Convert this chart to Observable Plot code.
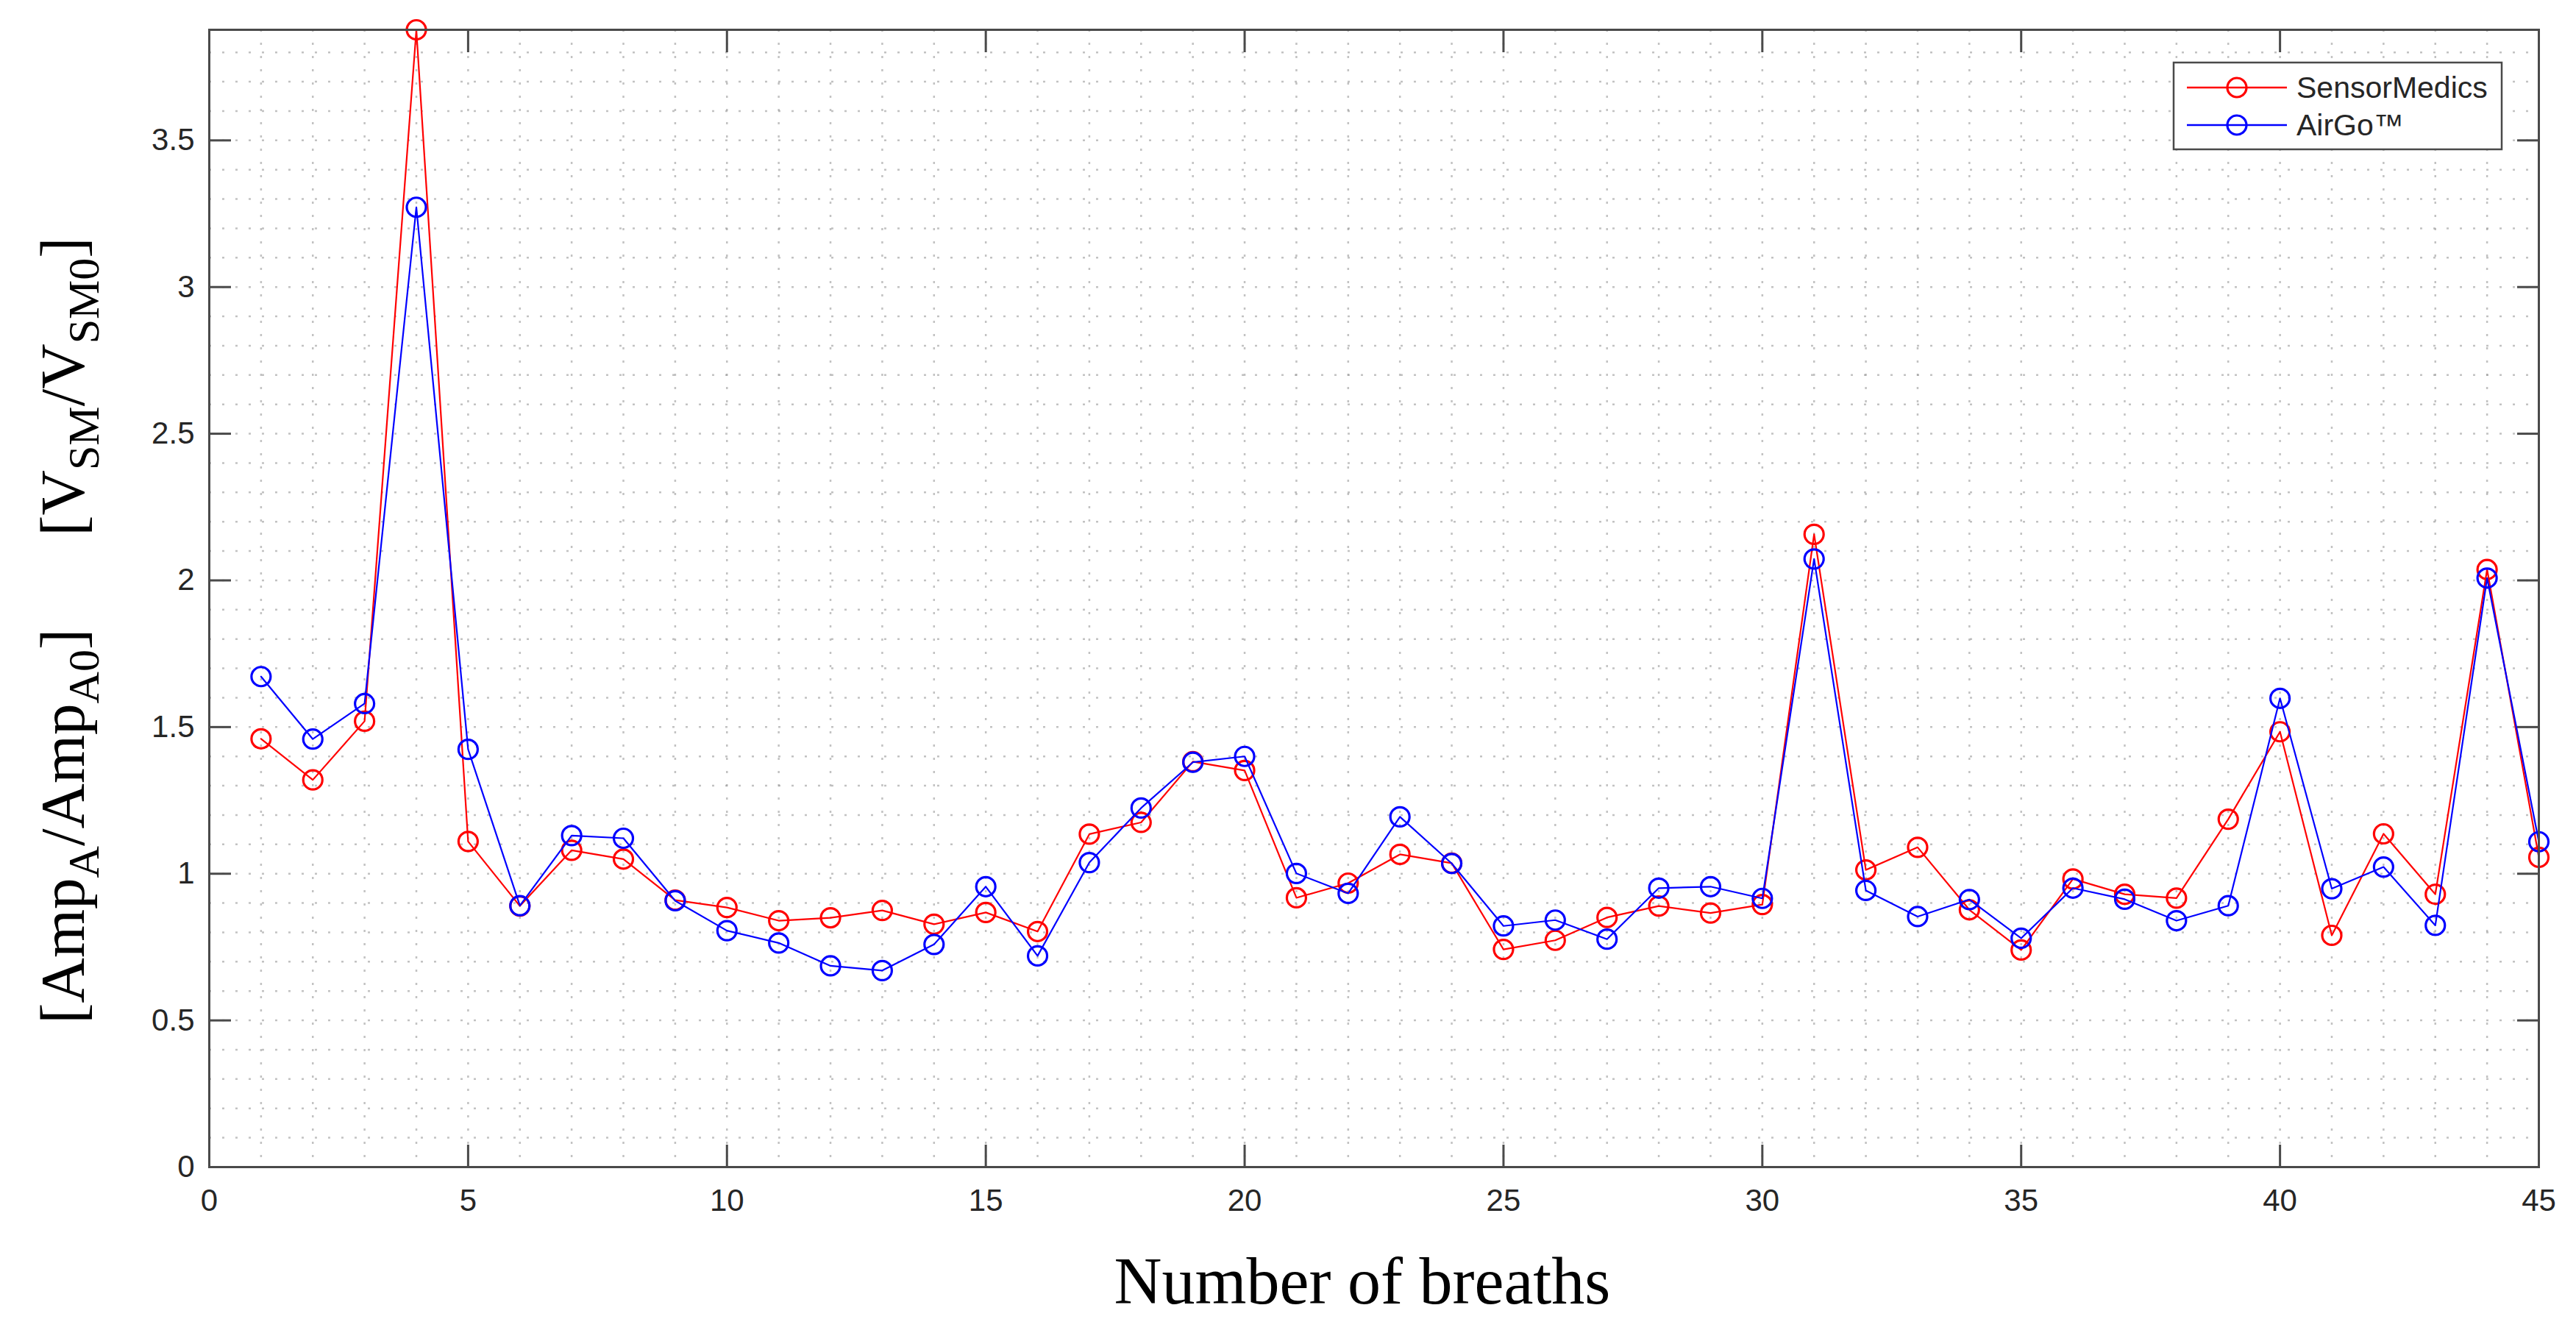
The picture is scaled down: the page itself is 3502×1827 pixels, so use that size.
<!DOCTYPE html>
<html>
<head>
<meta charset="utf-8">
<script src="https://cdn.jsdelivr.net/npm/d3@7"></script>
<script src="https://cdn.jsdelivr.net/npm/@observablehq/plot@0.6"></script>
<style>
  html, body { margin: 0; padding: 0; background: #fff; }
</style>
</head>
<body>
<div id="chart"></div>
<script>
// ---- data ----
const breaths = [1,2,3,4,5,6,7,8,9,10,11,12,13,14,15,16,17,18,19,20,21,22,23,24,25,26,27,28,29,30,31,32,33,34,35,36,37,38,39,40,41,42,43,44,45];
const sensorMedics = [1.46,1.32,1.52,3.877,1.11,0.89,1.08,1.05,0.91,0.885,0.84,0.85,0.875,0.828,0.868,0.803,1.135,1.175,1.382,1.352,0.918,0.968,1.066,1.036,0.742,0.773,0.851,0.89,0.866,0.895,2.157,1.013,1.09,0.877,0.74,0.982,0.93,0.917,1.186,1.484,0.79,1.136,0.93,2.037,1.056];
const airGo = [1.672,1.459,1.58,3.272,1.424,0.891,1.13,1.121,0.908,0.806,0.764,0.686,0.67,0.759,0.956,0.72,1.038,1.224,1.38,1.4,1.001,0.933,1.194,1.035,0.822,0.842,0.777,0.951,0.956,0.916,2.073,0.943,0.854,0.912,0.78,0.951,0.913,0.84,0.891,1.598,0.949,1.023,0.824,2.008,1.109];
const seriesNames = ["SensorMedics", "AirGo\u2122"];
const seriesColors = ["#ff0000", "#0000ff"];
const xTicks = [0,5,10,15,20,25,30,35,40,45];
const yTicks = [0,0.5,1,1.5,2,2.5,3,3.5];
const xLabel = "Number of breaths";

// ---- build tables ----
const redRows = breaths.map((b, i) => ({breath: b, value: sensorMedics[i], series: seriesNames[0]}));
const blueRows = breaths.map((b, i) => ({breath: b, value: airGo[i], series: seriesNames[1]}));
const minorX = d3.range(0, 46);
const minorY = d3.range(0, 39).map(i => i / 10);

const gridStyle = {stroke: "#9a9a9a", strokeOpacity: 0.6, strokeWidth: 2.5, strokeDasharray: "3,15"};
const tickStyle = {stroke: "#4a4a4a", strokeWidth: 3, fill: "none", label: null};

const plot = Plot.plot({
  width: 3502,
  height: 1827,
  marginLeft: 284,
  marginRight: 51,
  marginTop: 40,
  marginBottom: 241,
  style: {fontFamily: "'Liberation Sans', Arial, Helvetica, sans-serif", fontSize: "42px", color: "#262626", background: "#fff"},
  x: {domain: [0, 45]},
  y: {domain: [0, d3.max(sensorMedics)]},
  color: {domain: seriesNames, range: seriesColors},
  marks: [
    Plot.gridY(minorY, gridStyle),
    Plot.gridX(minorX, gridStyle),
    Plot.line(redRows, {x: "breath", y: "value", stroke: "series", strokeWidth: 2.2}),
    Plot.dot(redRows, {x: "breath", y: "value", stroke: "series", r: 13, strokeWidth: 3.2, fill: "none"}),
    Plot.line(blueRows, {x: "breath", y: "value", stroke: "series", strokeWidth: 2.2}),
    Plot.dot(blueRows, {x: "breath", y: "value", stroke: "series", r: 13, strokeWidth: 3.2, fill: "none"}),
    Plot.frame({stroke: "#4a4a4a", strokeWidth: 3}),
    // inward ticks on all four sides
    Plot.axisY(yTicks, {anchor: "left", tickSize: 30, dx: 30, ...tickStyle}),
    Plot.axisY(yTicks, {anchor: "right", tickSize: 30, dx: -30, ...tickStyle}),
    Plot.axisX(xTicks, {anchor: "bottom", tickSize: 30, dy: -30, ...tickStyle}),
    Plot.axisX(xTicks, {anchor: "top", tickSize: 30, dy: 30, ...tickStyle}),
    // tick labels
    Plot.axisY(yTicks, {anchor: "left", tickSize: 0, tickPadding: 20, tickFormat: d => String(d), label: null, fill: "#262626"}),
    Plot.axisX(xTicks, {anchor: "bottom", tickSize: 0, tickPadding: 30, tickFormat: d => String(d), label: null, fill: "#262626"})
  ]
});

document.getElementById("chart").appendChild(plot);

// ---- axis titles and legend ----
const svg = d3.select(plot);
const serif = "'Liberation Serif', 'Times New Roman', Times, serif";

svg.append("text")
  .attr("x", 1852).attr("y", 1772)
  .attr("text-anchor", "middle")
  .style("font-family", serif).style("font-size", "90px").style("fill", "#000")
  .text(xLabel);

const yl = svg.append("text")
  .attr("transform", "translate(114,857) rotate(-90)")
  .attr("text-anchor", "middle")
  .style("font-family", serif).style("font-size", "85px").style("fill", "#000");
const parts = [
  ["[Amp", false], ["A", true], ["/Amp", false], ["A0", true], ["]", false],
  ["[V", false, 126], ["SM", true], ["/V", false], ["SM0", true], ["]", false]
];
let shifted = false;
parts.forEach(([t, sub, gap]) => {
  const ts = yl.append("tspan").text(t);
  let dy = 0;
  if (sub && !shifted) { dy = 20; shifted = true; }
  if (!sub && shifted) { dy = -20; shifted = false; }
  if (dy) ts.attr("dy", dy);
  if (gap) ts.attr("dx", gap);
  if (sub) ts.style("font-size", "60px");
});

const lg = svg.append("g");
lg.append("rect").attr("x", 2955).attr("y", 85).attr("width", 446).attr("height", 118)
  .attr("fill", "#fff").attr("stroke", "#4a4a4a").attr("stroke-width", 2.5);
seriesNames.forEach((name, i) => {
  const cy = 119 + i * 51;
  lg.append("line").attr("x1", 2973).attr("x2", 3109).attr("y1", cy).attr("y2", cy)
    .attr("stroke", seriesColors[i]).attr("stroke-width", 2.5);
  lg.append("circle").attr("cx", 3041).attr("cy", cy).attr("r", 13)
    .attr("fill", "none").attr("stroke", seriesColors[i]).attr("stroke-width", 3.2);
  lg.append("text").attr("x", 3122).attr("y", cy).attr("dy", "0.35em")
    .attr("text-anchor", "start")
    .style("font-family", "'Liberation Sans', Arial, sans-serif").style("font-size", "41px").style("fill", "#262626")
    .text(name);
});
</script>
</body>
</html>
